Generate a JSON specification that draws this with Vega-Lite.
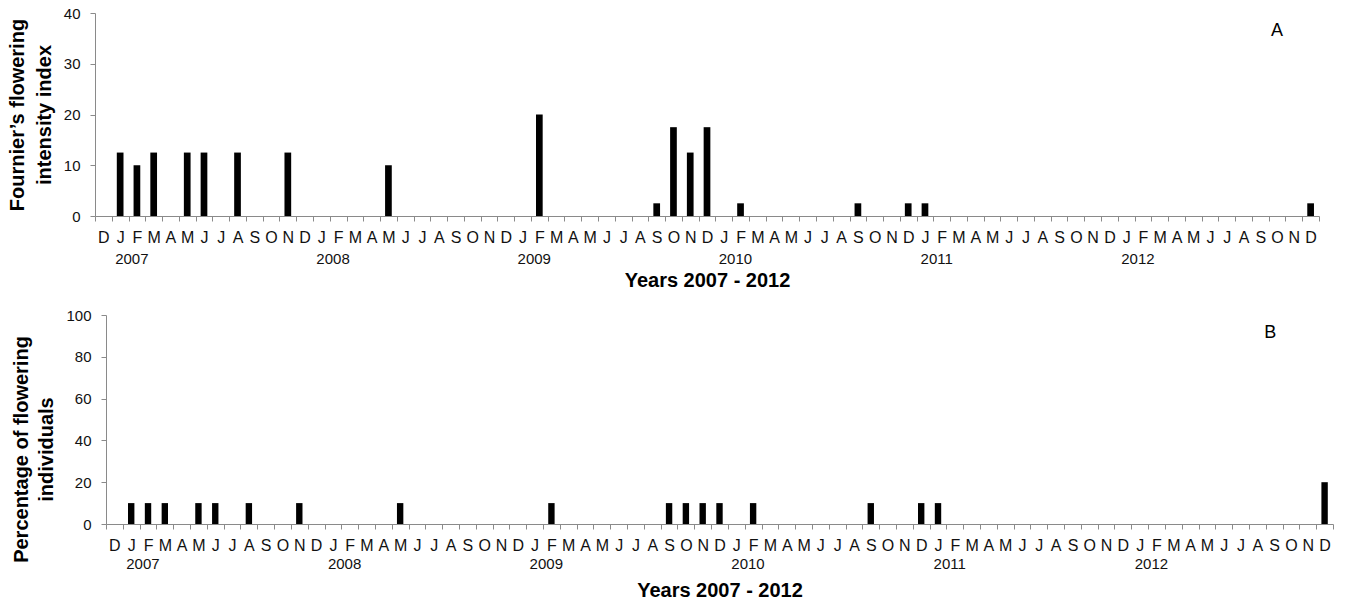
{
  "$schema": "https://vega.github.io/schema/vega-lite/v6.json",
  "padding": {"left": 7, "top": 6, "right": 4, "bottom": 2},
  "background": "white",
  "spacing": 18,
  "config": {
    "font": "Liberation Sans",
    "view": {"stroke": null},
    "text": {"font": "Liberation Sans", "color": "#111111"},
    "axis": {
      "domainColor": "#8a8a8a",
      "tickColor": "#8a8a8a",
      "labelColor": "#111111",
      "titleColor": "#000000",
      "grid": false,
      "labelFontSize": 15,
      "titleFontSize": 20,
      "titleFontWeight": "bold",
      "tickSize": 5
    }
  },
  "datasets": {
    "phen": [
      {"month": "2006-12", "fournier": 0, "percent": 0},
      {"month": "2007-01", "fournier": 12.5, "percent": 10},
      {"month": "2007-02", "fournier": 10, "percent": 10},
      {"month": "2007-03", "fournier": 12.5, "percent": 10},
      {"month": "2007-04", "fournier": 0, "percent": 0},
      {"month": "2007-05", "fournier": 12.5, "percent": 10},
      {"month": "2007-06", "fournier": 12.5, "percent": 10},
      {"month": "2007-07", "fournier": 0, "percent": 0},
      {"month": "2007-08", "fournier": 12.5, "percent": 10},
      {"month": "2007-09", "fournier": 0, "percent": 0},
      {"month": "2007-10", "fournier": 0, "percent": 0},
      {"month": "2007-11", "fournier": 12.5, "percent": 10},
      {"month": "2007-12", "fournier": 0, "percent": 0},
      {"month": "2008-01", "fournier": 0, "percent": 0},
      {"month": "2008-02", "fournier": 0, "percent": 0},
      {"month": "2008-03", "fournier": 0, "percent": 0},
      {"month": "2008-04", "fournier": 0, "percent": 0},
      {"month": "2008-05", "fournier": 10, "percent": 10},
      {"month": "2008-06", "fournier": 0, "percent": 0},
      {"month": "2008-07", "fournier": 0, "percent": 0},
      {"month": "2008-08", "fournier": 0, "percent": 0},
      {"month": "2008-09", "fournier": 0, "percent": 0},
      {"month": "2008-10", "fournier": 0, "percent": 0},
      {"month": "2008-11", "fournier": 0, "percent": 0},
      {"month": "2008-12", "fournier": 0, "percent": 0},
      {"month": "2009-01", "fournier": 0, "percent": 0},
      {"month": "2009-02", "fournier": 20, "percent": 10},
      {"month": "2009-03", "fournier": 0, "percent": 0},
      {"month": "2009-04", "fournier": 0, "percent": 0},
      {"month": "2009-05", "fournier": 0, "percent": 0},
      {"month": "2009-06", "fournier": 0, "percent": 0},
      {"month": "2009-07", "fournier": 0, "percent": 0},
      {"month": "2009-08", "fournier": 0, "percent": 0},
      {"month": "2009-09", "fournier": 2.5, "percent": 10},
      {"month": "2009-10", "fournier": 17.5, "percent": 10},
      {"month": "2009-11", "fournier": 12.5, "percent": 10},
      {"month": "2009-12", "fournier": 17.5, "percent": 10},
      {"month": "2010-01", "fournier": 0, "percent": 0},
      {"month": "2010-02", "fournier": 2.5, "percent": 10},
      {"month": "2010-03", "fournier": 0, "percent": 0},
      {"month": "2010-04", "fournier": 0, "percent": 0},
      {"month": "2010-05", "fournier": 0, "percent": 0},
      {"month": "2010-06", "fournier": 0, "percent": 0},
      {"month": "2010-07", "fournier": 0, "percent": 0},
      {"month": "2010-08", "fournier": 0, "percent": 0},
      {"month": "2010-09", "fournier": 2.5, "percent": 10},
      {"month": "2010-10", "fournier": 0, "percent": 0},
      {"month": "2010-11", "fournier": 0, "percent": 0},
      {"month": "2010-12", "fournier": 2.5, "percent": 10},
      {"month": "2011-01", "fournier": 2.5, "percent": 10},
      {"month": "2011-02", "fournier": 0, "percent": 0},
      {"month": "2011-03", "fournier": 0, "percent": 0},
      {"month": "2011-04", "fournier": 0, "percent": 0},
      {"month": "2011-05", "fournier": 0, "percent": 0},
      {"month": "2011-06", "fournier": 0, "percent": 0},
      {"month": "2011-07", "fournier": 0, "percent": 0},
      {"month": "2011-08", "fournier": 0, "percent": 0},
      {"month": "2011-09", "fournier": 0, "percent": 0},
      {"month": "2011-10", "fournier": 0, "percent": 0},
      {"month": "2011-11", "fournier": 0, "percent": 0},
      {"month": "2011-12", "fournier": 0, "percent": 0},
      {"month": "2012-01", "fournier": 0, "percent": 0},
      {"month": "2012-02", "fournier": 0, "percent": 0},
      {"month": "2012-03", "fournier": 0, "percent": 0},
      {"month": "2012-04", "fournier": 0, "percent": 0},
      {"month": "2012-05", "fournier": 0, "percent": 0},
      {"month": "2012-06", "fournier": 0, "percent": 0},
      {"month": "2012-07", "fournier": 0, "percent": 0},
      {"month": "2012-08", "fournier": 0, "percent": 0},
      {"month": "2012-09", "fournier": 0, "percent": 0},
      {"month": "2012-10", "fournier": 0, "percent": 0},
      {"month": "2012-11", "fournier": 0, "percent": 0},
      {"month": "2012-12", "fournier": 2.5, "percent": 20}
    ],
    "years": [
      {"month": "2007-01", "year": "2007"},
      {"month": "2008-01", "year": "2008"},
      {"month": "2009-01", "year": "2009"},
      {"month": "2010-01", "year": "2010"},
      {"month": "2011-01", "year": "2011"},
      {"month": "2012-01", "year": "2012"}
    ]
  },
  "vconcat": [
    {
      "width": 1224,
      "height": 203,
      "layer": [
        {
          "data": {"name": "phen"},
          "mark": {"type": "bar", "color": "#000000", "width": {"band": 0.4}},
          "encoding": {
            "x": {
              "field": "month",
              "type": "nominal",
              "title": "Years 2007 - 2012",
              "scale": {"paddingInner": 0, "paddingOuter": 0},
              "axis": {
                "labelAngle": 0,
                "labelOverlap": false,
                "tickBand": "extent",
                "labelFontSize": 16,
                "labelPadding": 8,
                "titlePadding": 25,
                "labelExpr": "['J','F','M','A','M','J','J','A','S','O','N','D'][toNumber(substring(datum.value,5,7)) - 1]"
              }
            },
            "y": {
              "field": "fournier",
              "type": "quantitative",
              "scale": {"domain": [0, 40], "nice": false},
              "axis": {
                "values": [0, 10, 20, 30, 40],
                "title": ["Fournier’s flowering", "intensity index"],
                "titleLineHeight": 27,
                "labelPadding": 10,
                "titlePadding": 9
              }
            }
          }
        },
        {
          "data": {"name": "years"},
          "mark": {"type": "text", "fontSize": 15, "dx": 11.7, "y": 245.5, "baseline": "middle"},
          "encoding": {
            "x": {"field": "month", "type": "nominal", "title": "Years 2007 - 2012"},
            "text": {"field": "year"}
          }
        },
        {
          "data": {"values": [{"label": "A"}]},
          "mark": {"type": "text", "fontSize": 18, "color": "#000000"},
          "encoding": {
            "x": {"datum": "2012-10", "type": "nominal"},
            "y": {"datum": 36.5, "type": "quantitative"},
            "text": {"field": "label"}
          }
        }
      ]
    },
    {
      "width": 1238,
      "height": 209,
      "layer": [
        {
          "data": {"name": "phen"},
          "mark": {"type": "bar", "color": "#000000", "width": {"band": 0.38}},
          "encoding": {
            "x": {
              "field": "month",
              "type": "nominal",
              "title": "Years 2007 - 2012",
              "scale": {"paddingInner": 0, "paddingOuter": 0, "range": [11, 1238]},
              "axis": {
                "labelAngle": 0,
                "labelOverlap": false,
                "tickBand": "extent",
                "labelFontSize": 16,
                "labelPadding": 8,
                "titlePadding": 27,
                "labelExpr": "['J','F','M','A','M','J','J','A','S','O','N','D'][toNumber(substring(datum.value,5,7)) - 1]"
              }
            },
            "y": {
              "field": "percent",
              "type": "quantitative",
              "scale": {"domain": [0, 100], "nice": false},
              "axis": {
                "values": [0, 20, 40, 60, 80, 100],
                "title": ["Percentage of flowering", "individuals"],
                "titleLineHeight": 25,
                "labelPadding": 10,
                "titlePadding": 9,
                "titleY": 134,
                "offset": -11
              }
            }
          }
        },
        {
          "data": {"name": "years"},
          "mark": {"type": "text", "fontSize": 15, "dx": 11.7, "y": 248.5, "baseline": "middle"},
          "encoding": {
            "x": {"field": "month", "type": "nominal", "title": "Years 2007 - 2012"},
            "text": {"field": "year"}
          }
        },
        {
          "data": {"values": [{"label": "B"}]},
          "mark": {"type": "text", "fontSize": 18, "color": "#000000", "dx": -4},
          "encoding": {
            "x": {"datum": "2012-09", "type": "nominal"},
            "y": {"datum": 91.5, "type": "quantitative"},
            "text": {"field": "label"}
          }
        }
      ]
    }
  ]
}
